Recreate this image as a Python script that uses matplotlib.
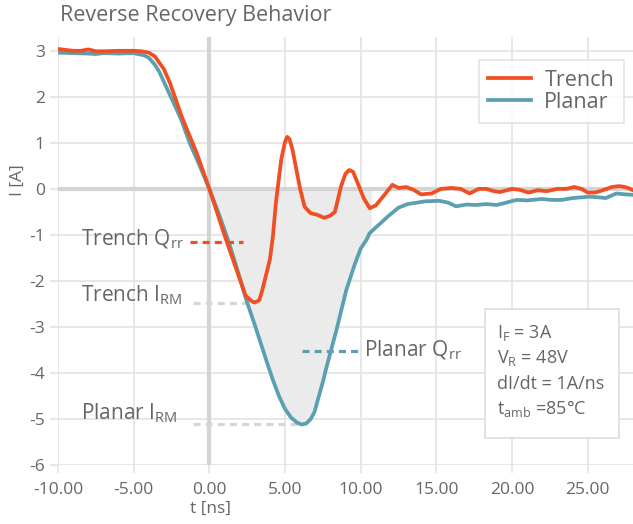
import numpy as np
import matplotlib
matplotlib.use("Agg")
import matplotlib.pyplot as plt
from matplotlib.patches import Rectangle

plt.rcParams['font.family'] = ['Open Sans', 'DejaVu Sans']
plt.rcParams['mathtext.fontset'] = 'custom'
plt.rcParams['mathtext.rm'] = 'Open Sans'
plt.rcParams['mathtext.it'] = 'Open Sans'
plt.rcParams['mathtext.bf'] = 'Open Sans'

# ---------------- data ----------------
t_trench = [-10, -9, -8.5, -8, -7.5, -7, -6, -5, -4.5, -4, -3.6, -3.3, -3, -2.6, -1.8, -0.86,
            0, 1.1, 1.8, 2.4, 2.8, 3.0, 3.3, 3.5, 4.0, 4.2, 4.4, 4.75, 5.0, 5.15, 5.3, 5.5, 5.75, 6.0,
            6.3, 6.7, 7.1, 7.6, 8.0, 8.3, 8.7, 9.0, 9.25, 9.5, 9.8, 10.2, 10.6, 11.0, 11.6, 12.1,
            12.5, 13, 13.5, 14, 14.7, 15.3, 16, 16.6,
            17.2, 17.8, 18.3, 18.8, 19.2, 20, 20.5, 21.1, 21.7, 22.3, 23, 23.6, 24.1, 24.6,
            25, 25.5, 26, 26.6, 27.1, 27.6, 28]
i_trench = [3.04, 3.0, 3.0, 3.03, 2.99, 2.99, 3.0, 3.0, 2.99, 2.96, 2.88, 2.74, 2.6, 2.3, 1.55, 0.8,
            0.0, -1.1, -1.76, -2.32, -2.44, -2.47, -2.42, -2.2, -1.54, -1.04, -0.3, 0.63, 1.02, 1.13, 1.08, 0.85, 0.42, 0.0,
            -0.39, -0.53, -0.56, -0.63, -0.58, -0.5, 0.05, 0.33, 0.41, 0.37, 0.13, -0.2, -0.42, -0.36, -0.12, 0.09,
            0.02, 0.04, -0.02, -0.12, -0.1, 0.0, 0.02, 0.0,
            -0.1, 0.0, 0.0, -0.05, -0.07, 0.0, -0.02, -0.08, -0.03, -0.05, 0.0, 0.0, 0.04, 0.0,
            -0.08, -0.08, -0.03, 0.04, 0.06, 0.03, -0.03]

t_planar = [-10, -9, -8, -7.5, -7, -6, -5, -4.3, -4, -3.6, -3.3, -2.6, -1.85, -1.3, -0.66,
            0, 0.66, 1.3, 1.8, 2.44, 3.0, 3.76, 4.2, 4.6, 5.0, 5.4, 5.8, 6.1, 6.4, 6.7, 6.95, 7.2, 7.5, 7.7,
            8.4, 9.05, 9.6, 10.0, 10.4, 10.6, 11.2, 11.8, 12.5, 13.1, 13.7, 14.3, 15.2, 15.8,
            16.3, 17.0, 17.6, 18.3, 19.0, 19.6, 20.3, 21.0, 22.0, 22.6, 23.3, 24.0, 25.1, 25.6,
            26.2, 26.9, 27.5, 28]
i_planar = [2.96, 2.95, 2.94, 2.93, 2.95, 2.94, 2.95, 2.9, 2.85, 2.7, 2.54, 2.04, 1.5, 1.0, 0.52,
            0.0, -0.57, -1.17, -1.7, -2.41, -2.95, -3.72, -4.15, -4.5, -4.78, -4.97, -5.08, -5.12, -5.1, -5.0, -4.85, -4.55, -4.2, -3.93,
            -3.07, -2.2, -1.65, -1.3, -1.1, -0.96, -0.78, -0.6, -0.41, -0.33, -0.3, -0.27, -0.26, -0.3,
            -0.38, -0.34, -0.35, -0.33, -0.35, -0.3, -0.24, -0.25, -0.22, -0.24, -0.24, -0.2, -0.17, -0.18,
            -0.2, -0.1, -0.12, -0.13]

series_names = ["Trench", "Planar"]
x_ticks = [-10, -5, 0, 5, 10, 15, 20, 25]
y_ticks = [-6, -5, -4, -3, -2, -1, 0, 1, 2, 3]
fill_end = 10.7

c_trench = "#f04e23"
c_planar = "#5b9fb1"
c_text = "#666666"
c_grid = "#e3e3e3"
c_zero = "#d4d4d4"
c_dash = "#d6d6d6"

fig = plt.figure(figsize=(6.33, 5.24), dpi=100)
ax = fig.add_axes([58/633, 1-465/524, 575/633, 428/524])
ax.set_xlim(-10, 28)
ax.set_ylim(-6, 3.3)

for s in ax.spines.values():
    s.set_visible(False)
ax.set_xticks(x_ticks)
ax.set_yticks(y_ticks)
ax.set_xticklabels([f"{v:.2f}" for v in x_ticks])
ax.set_yticklabels([str(v) for v in y_ticks])
ax.tick_params(axis='both', length=6, width=1.2, color=c_grid, labelcolor=c_text, labelsize=12.5)
ax.tick_params(axis='x', pad=6)
ax.grid(True, color=c_grid, lw=1.2)
ax.set_axisbelow(True)

ax.axvline(0, color=c_zero, lw=3, zorder=1.5)
ax.axhline(0, color=c_zero, lw=3, zorder=1.5)

# shaded Qrr area
tt = np.linspace(0, fill_end, 300)
pp = np.interp(tt, t_planar, i_planar)
ax.fill_between(tt, pp, 0, color="#ebebeb", lw=0, zorder=1.2)

ax.plot(t_planar, i_planar, color=c_planar, lw=2.7, label=series_names[1], zorder=3,
        solid_joinstyle='round')
ax.plot(t_trench, i_trench, color=c_trench, lw=2.7, label=series_names[0], zorder=4,
        solid_joinstyle='round')

# annotations
ax.plot([-1.3, 2.2], [-1.15, -1.15], color=c_trench, lw=2.3, ls=(0, (2.2, 1.6)), zorder=5)
ax.plot([-1.1, 2.6], [-2.48, -2.48], color=c_dash, lw=2.3, ls=(0, (2.2, 1.6)), zorder=2)
ax.plot([6.1, 9.9], [-3.52, -3.52], color=c_planar, lw=2.3, ls=(0, (2.2, 1.6)), zorder=5)
ax.plot([-1.1, 5.9], [-5.1, -5.1], color=c_dash, lw=2.3, ls=(0, (2.2, 1.6)), zorder=2)

fs_ann = 15
ax.text(-8.45, -1.1, r"Trench Q$_{\mathrm{rr}}$", color=c_text, fontsize=fs_ann, va='center', ha='left')
ax.text(-8.45, -2.3, r"Trench I$_{\mathrm{RM}}$", color=c_text, fontsize=fs_ann, va='center', ha='left')
ax.text(10.2, -3.5, r"Planar Q$_{\mathrm{rr}}$", color=c_text, fontsize=fs_ann, va='center', ha='left')
ax.text(-8.45, -4.87, r"Planar I$_{\mathrm{RM}}$", color=c_text, fontsize=fs_ann, va='center', ha='left')

# legend
handles, labels = ax.get_legend_handles_labels()
order = [labels.index(n) for n in series_names]
leg = ax.legend([handles[k] for k in order], [labels[k] for k in order],
                loc='upper right', bbox_to_anchor=(0.984, 0.946), fontsize=15.5, frameon=True,
                fancybox=False, edgecolor="#dddddd", handlelength=2.0, handletextpad=0.6,
                borderpad=0.45, labelspacing=0.05, borderaxespad=0)
for txt in leg.get_texts():
    txt.set_color(c_text)
leg.get_frame().set_linewidth(1.2)

# info box
ax.add_patch(Rectangle((0.743, 0.063), 0.233, 0.3015, transform=ax.transAxes, fill=True,
                       facecolor='white', edgecolor="#dddddd", lw=1.2, zorder=6))
info = [r"I$_{\mathrm{F}}$ = 3A", r"V$_{\mathrm{R}}$ = 48V", "dI/dt = 1A/ns",
        r"t$_{\mathrm{amb}}$ =85°C"]
for k, (s, y) in enumerate(zip(info, [0.308, 0.25, 0.19, 0.133])):
    ax.text(0.7635, y, s, transform=ax.transAxes, fontsize=13, color=c_text, va='center',
            ha='left', zorder=7)

fig.text(60/633, 1-15/524, "Reverse Recovery Behavior", fontsize=15.5, color=c_text,
         ha='left', va='center')
fig.text(18/633, 1-180/524, "I [A]", fontsize=12.5, color=c_text, rotation=90, ha='center', va='center')
fig.text(210/633, 1-509/524, "t [ns]", fontsize=12.5, color=c_text, ha='center', va='center')

fig.savefig("out.png", dpi=100)
